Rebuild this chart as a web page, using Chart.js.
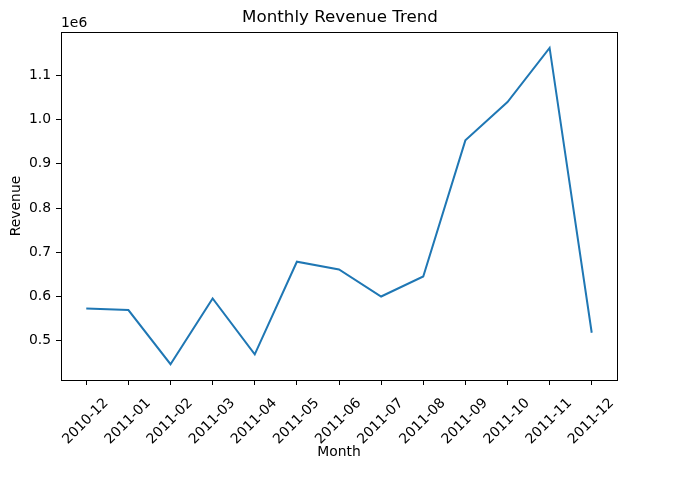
<!DOCTYPE html>
<html>
<head>
<meta charset="utf-8">
<script src="https://cdn.jsdelivr.net/npm/chart.js@4/dist/chart.umd.min.js"></script>
<style>
  body { margin: 0; background: #fff; }
  canvas { display: block; }
</style>
</head>
<body>
<canvas id="revenueChart" width="680" height="480"></canvas>
<script>
// Monthly revenue data
const months = ["2010-12", "2011-01", "2011-02", "2011-03", "2011-04", "2011-05", "2011-06",
  "2011-07", "2011-08", "2011-09", "2011-10", "2011-11", "2011-12"];
const revenue = [572713, 569445, 447137, 595500, 469200, 678594, 661214,
  600091, 645344, 952838, 1039319, 1161817, 518193];
const yTicks = [500000, 600000, 700000, 800000, 900000, 1000000, 1100000];

const font = "DejaVu Sans";

// matplotlib style: 5% margins on both axes
const yMin = Math.min(...revenue), yMax = Math.max(...revenue);
const yPad = (yMax - yMin) * 0.05;
const xPad = (months.length - 1) * 0.05;

// frame box + the "1e6" offset label
const framePlugin = {
  id: "frame",
  afterDraw(chart) {
    const { ctx, chartArea } = chart;
    ctx.save();
    ctx.strokeStyle = "#000";
    ctx.lineWidth = 1;
    ctx.strokeRect(Math.round(chartArea.left) + 0.5, Math.round(chartArea.top) + 0.5,
      Math.round(chartArea.right - chartArea.left), Math.round(chartArea.bottom - chartArea.top));
    ctx.fillStyle = "#000";
    ctx.font = "13.9px '" + font + "'";
    ctx.textAlign = "left";
    ctx.textBaseline = "alphabetic";
    ctx.fillText("1e6", chartArea.left, chartArea.top - 5);
    ctx.restore();
  },
};

const ctx = document.getElementById("revenueChart").getContext("2d");
new Chart(ctx, {
  type: "line",
  data: {
    datasets: [
      {
        label: "Revenue",
        data: revenue.map((v, i) => ({ x: i, y: v })),
        borderColor: "#1f77b4",
        borderWidth: 2,
        pointRadius: 0,
        fill: false,
        tension: 0,
      },
    ],
  },
  options: {
    responsive: false,
    animation: false,
    layout: { padding: 0 },
    plugins: {
      legend: { display: false },
      tooltip: { enabled: false },
      title: {
        display: true,
        text: "Monthly Revenue Trend",
        color: "#000",
        font: { family: font, size: 16.7, weight: "normal", lineHeight: 1.2 },
        padding: { top: 8, bottom: 4 },
      },
    },
    scales: {
      x: {
        type: "linear",
        min: -xPad,
        max: months.length - 1 + xPad,
        afterBuildTicks: (axis) => {
          axis.ticks = months.map((m, i) => ({ value: i }));
        },
        afterFit: (axis) => {
          axis.height = 100;
        },
        ticks: {
          autoSkip: false,
          minRotation: 45,
          maxRotation: 45,
          padding: 10,
          labelOffset: 20,
          color: "#000",
          font: { family: font, size: 13.9 },
          callback: (v) => months[v],
        },
        grid: { drawOnChartArea: false, drawTicks: true, tickLength: 5, color: "#000" },
        border: { display: true, color: "#000" },
        title: {
          display: true,
          text: "Month",
          color: "#000",
          font: { family: font, size: 13.9 },
          padding: { top: 0, bottom: 19.7 },
        },
      },
      y: {
        min: yMin - yPad,
        max: yMax + yPad,
        afterBuildTicks: (axis) => {
          axis.ticks = yTicks.map((v) => ({ value: v }));
        },
        afterFit: (axis) => {
          axis.width = 61;
        },
        ticks: {
          padding: 5,
          color: "#000",
          font: { family: font, size: 13.9 },
          callback: (v) => (v / 1e6).toFixed(1),
        },
        grid: { drawOnChartArea: false, drawTicks: true, tickLength: 5, color: "#000" },
        border: { display: true, color: "#000" },
        title: {
          display: true,
          text: "Revenue",
          color: "#000",
          font: { family: font, size: 13.9 },
          padding: { top: 7.6, bottom: 0 },
        },
      },
      // empty right axis, only reserves the right margin
      yRight: {
        position: "right",
        afterFit: (axis) => {
          axis.width = 63;
        },
        ticks: { display: false },
        grid: { display: false },
        border: { display: false },
      },
    },
  },
  plugins: [framePlugin],
});
</script>
</body>
</html>
